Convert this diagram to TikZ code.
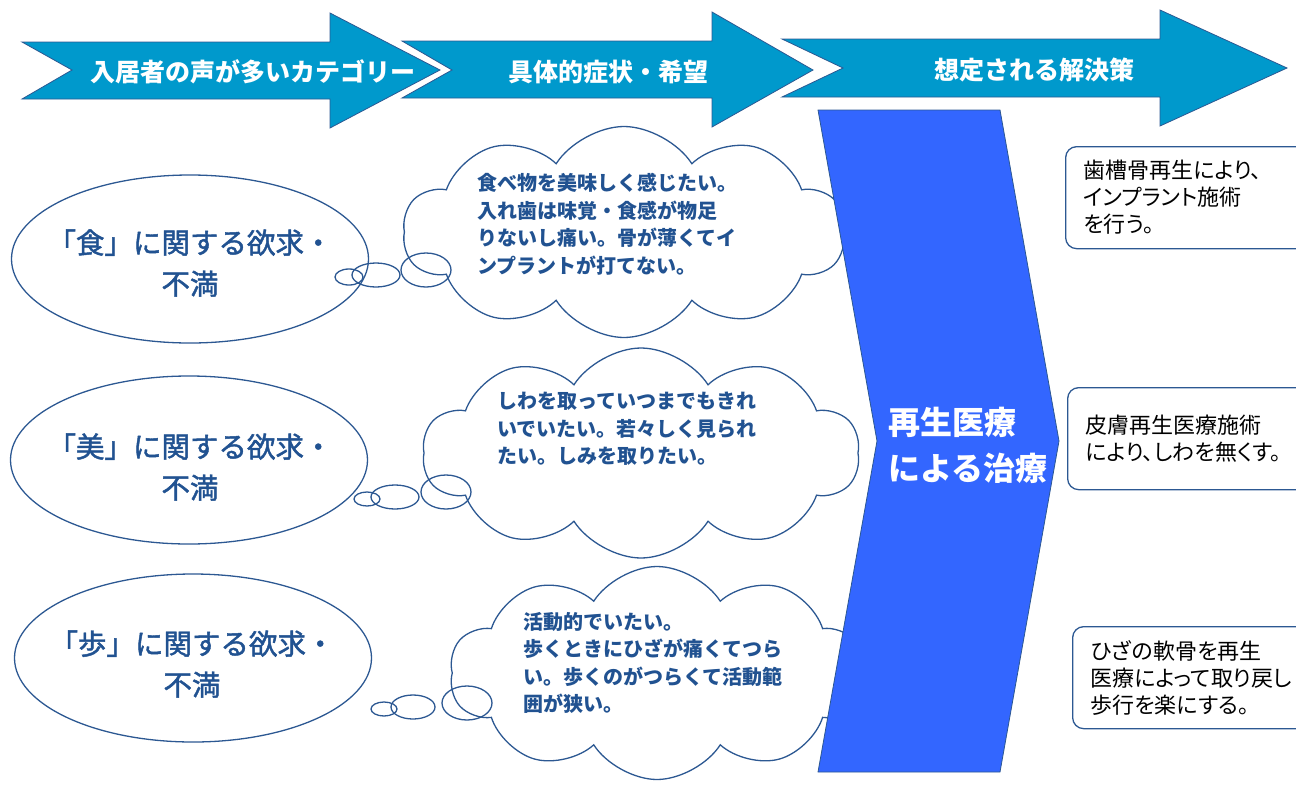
\documentclass[tikz,border=0pt]{standalone}
\usepackage{fontspec}
\newfontfamily\jp{Noto Sans CJK JP}
\newfontfamily\jpmed[FakeBold=1.6]{Noto Sans CJK JP}
\newfontfamily\jpprop[RawFeature=+palt]{Noto Sans CJK JP}
\usetikzlibrary{shapes.geometric,shapes.symbols}
\definecolor{headblue}{RGB}{0,153,204}
\definecolor{edgeblue}{RGB}{44,88,146}
\definecolor{textblue}{RGB}{33,82,145}
\definecolor{chevblue}{RGB}{51,102,255}

\begin{document}
\begin{tikzpicture}[x=1pt, y=-1pt,
	head/.style={fill=headblue, draw=edgeblue, line width=0.8pt},
	headtext/.style={text=white, inner sep=0pt, font=\jp\bfseries\fontsize{25}{30}\selectfont},
	wish/.style={ellipse, draw=edgeblue, line width=1.3pt, minimum width=357pt, minimum height=168pt, inner sep=0pt},
	wishtext/.style={text=textblue, align=center, inner sep=0pt, font=\jpmed\fontsize{28.5}{41}\selectfont},
	thought/.style={cloud, cloud puffs=10, cloud puff arc=115, draw=edgeblue, line width=1.3pt, inner sep=0pt},
	puff/.style={draw=edgeblue, line width=1.3pt},
	voice/.style={text=textblue, align=left, anchor=north west, inner sep=0pt, font=\jp\bfseries\fontsize{20}{27.5}\selectfont},
	answer/.style={draw=edgeblue, line width=1.3pt, rounded corners=11pt, anchor=north west, minimum height=102pt, text width=240pt, inner xsep=18pt, align=left, font=\jpprop\fontsize{22}{27}\selectfont}
	]
		\useasboundingbox (0,0) rectangle (1296,785);
		% header arrows
		\draw[head] (22,42) -- (330,42) -- (330,13) -- (440,70) -- (330,128) -- (330,99) -- (22,99) -- (72,70) -- cycle;
		\draw[head] (402,41) -- (712,41) -- (712,12) -- (813,70) -- (712,127) -- (712,98) -- (402,98) -- (452,70) -- cycle;
		\draw[head] (782,39) -- (1160,39) -- (1160,10) -- (1287,68) -- (1160,126) -- (1160,97) -- (782,97) -- (843,68) -- cycle;
		\node[headtext] (h1) at (253,72) {入居者の声が多いカテゴリー};
		\node[headtext] (h2) at (608,72) {具体的症状・希望};
		\node[headtext] (h3) at (1034,70) {想定される解決策};

		% categories
		\node[wish] (food) at (190,259) {};
		\node[wish] (beauty) at (189,460) {};
		\node[wish] (walk) at (193,658) {};
		\node[wishtext] (foodtxt) at (190,263) {「食」に関する欲求・\\不満};
		\node[wishtext] (beautytxt) at (190,467) {「美」に関する欲求・\\不満};
		\node[wishtext] (walktxt) at (192,664) {「歩」に関する欲求・\\不満};

		% thoughts
		\node[thought, minimum width=442pt, minimum height=211pt] (c1) at (624,232) {};
		\node[thought, minimum width=437pt, minimum height=210pt] (c2) at (641,453) {};
		\node[thought, minimum width=415pt, minimum height=213pt] (c3) at (657,673) {};
		\draw[puff] (426,270) ellipse [x radius=25, y radius=17];
		\draw[puff] (376,275) ellipse [x radius=24, y radius=12];
		\draw[puff] (349,277) ellipse [x radius=14, y radius=8];
		\draw[puff] (446,492) ellipse [x radius=25, y radius=17];
		\draw[puff] (395,497) ellipse [x radius=24, y radius=12];
		\draw[puff] (367,499) ellipse [x radius=13, y radius=7];
		\draw[puff] (467,703) ellipse [x radius=25, y radius=17];
		\draw[puff] (413,707) ellipse [x radius=22, y radius=12];
		\draw[puff] (384,709) ellipse [x radius=13, y radius=7];
		\node[voice] (v1) at (477,173) {食べ物を美味しく感じたい。\\入れ歯は味覚・食感が物足\\りないし痛い。骨が薄くてイ\\ンプラントが打てない。};
		\node[voice] (v2) at (497,392) {しわを取っていつまでもきれ\\いでいたい。若々しく見られ\\たい。しみを取りたい。};
		\node[voice] (v3) at (523,612) {活動的でいたい。\\歩くときにひざが痛くてつら\\い。歩くのがつらくて活動範\\囲が狭い。};

		% treatment
		\draw[fill=chevblue, draw=edgeblue, line width=0.8pt] (818,110) -- (1000,110) -- (1059,441) -- (1000,772) -- (818,772) -- (877,441) -- cycle;
		\node[text=white, align=left, anchor=north west, inner sep=0pt, font=\jp\bfseries\fontsize{32}{46}\selectfont] (cure) at (888,407) {再生医療\\による治療};

		% solutions
		\node[answer] (s1) at (1065,146) {歯槽骨再生により、\\インプラント施術\\を行う。};
		\node[answer] (s2) at (1067,387) {皮膚再生医療施術\\により、しわを無くす。};
		\node[answer] (s3) at (1072,626) {ひざの軟骨を再生\\医療によって取り戻し\\歩行を楽にする。};
\end{tikzpicture}
\end{document}
